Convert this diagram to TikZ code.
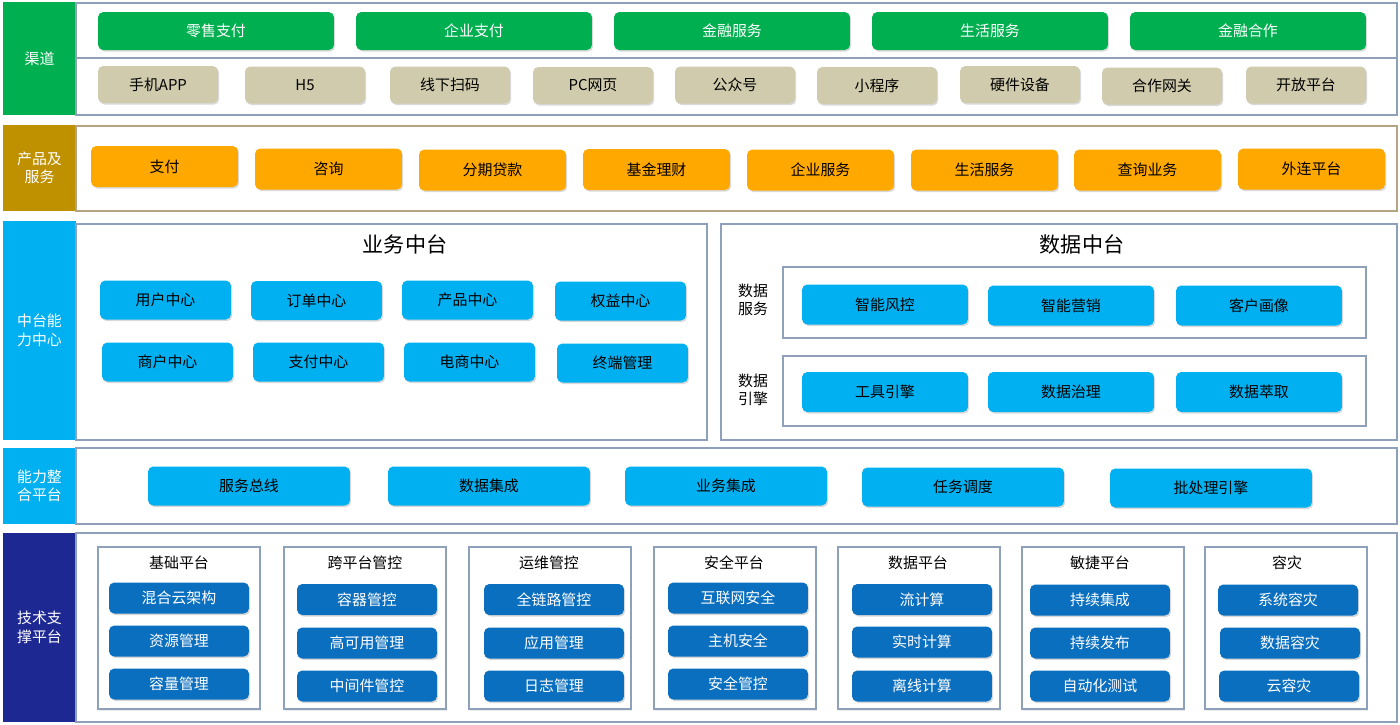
\documentclass[tikz,border=0pt]{standalone}
\usepackage{fontspec}
\setmainfont{Noto Sans CJK SC}
\usetikzlibrary{shadows}

\definecolor{qdgreen}{HTML}{00B050}
\definecolor{zdbeige}{HTML}{CFCBAC}
\definecolor{cpgold}{HTML}{BF9000}
\definecolor{cporange}{HTML}{FFA800}
\definecolor{ztblue}{HTML}{00B0F0}
\definecolor{jsnavy}{HTML}{1E2893}
\definecolor{jsblue}{HTML}{0B6FC0}
\definecolor{frameline}{HTML}{8EA0BA}
\definecolor{cpline}{HTML}{B4A582}

\tikzset{
  txt/.style={font=\fontsize{8.5}{10.5}\selectfont},
  lbl/.style={txt, fill=#1, text=white, minimum width=1.46cm, align=center, inner sep=0pt},
  frame/.style={draw=frameline, line width=0.6pt},
  box/.style={txt, rounded corners=3pt, inner sep=0pt,
    drop shadow={shadow xshift=0.7pt, shadow yshift=-0.9pt, opacity=0.3}},
  chbox/.style={box, fill=qdgreen, text=white, minimum width=4.72cm, minimum height=0.76cm},
  tmbox/.style={box, fill=zdbeige, minimum width=2.40cm, minimum height=0.74cm},
  pdbox/.style={box, fill=cporange, minimum width=2.94cm, minimum height=0.82cm},
  ywbox/.style={box, fill=ztblue, minimum width=2.62cm, minimum height=0.78cm},
  sjbox/.style={box, fill=ztblue, minimum width=3.32cm, minimum height=0.80cm},
  zhbox/.style={box, fill=ztblue, minimum width=4.04cm, minimum height=0.78cm},
  jsbox/.style={box, fill=jsblue, text=white, minimum width=2.80cm, minimum height=0.62cm},
  grp/.style={frame, fill=white, drop shadow={shadow xshift=0.7pt, shadow yshift=-0.9pt, opacity=0.15}},
  title/.style={font=\fontsize{12}{14}\selectfont}
}

\begin{document}
\begin{tikzpicture}[x=0.02cm, y=-0.02cm]
  \useasboundingbox (0,0) rectangle (1400,724);

  % 渠道
  \node[lbl=qdgreen, minimum height=2.26cm] (qd) at (39.5,58.5) {渠道};
  \draw[frame] (76,3) rectangle (1397,115);
  \draw[frame] (76,58) -- (1397,58);

  \node[chbox] (ch1) at (216,31) {零售支付};
  \node[chbox] (ch2) at (474,31) {企业支付};
  \node[chbox] (ch3) at (732,31) {金融服务};
  \node[chbox] (ch4) at (990,31) {生活服务};
  \node[chbox] (ch5) at (1248,31) {金融合作};

  \node[tmbox] (tm1) at (158,84.5) {手机APP};
  \node[tmbox] (tm2) at (305,85) {H5};
  \node[tmbox] (tm3) at (450,85) {线下扫码};
  \node[tmbox] (tm4) at (593,85.5) {PC网页};
  \node[tmbox] (tm5) at (735,85) {公众号};
  \node[tmbox] (tm6) at (877,85.5) {小程序};
  \node[tmbox] (tm7) at (1020,84.5) {硬件设备};
  \node[tmbox] (tm8) at (1162,86) {合作网关};
  \node[tmbox] (tm9) at (1306,85) {开放平台};

  % 产品及服务
  \node[lbl=cpgold, minimum height=1.72cm] (cp) at (39.5,168) {产品及\\服务};
  \draw[draw=cpline, line width=0.6pt] (76,126) rectangle (1397,211);

  \node[pdbox] (pd1) at (164.5,166.5) {支付};
  \node[pdbox] (pd2) at (328.5,169) {咨询};
  \node[pdbox] (pd3) at (492.5,170) {分期贷款};
  \node[pdbox] (pd4) at (656.5,169.5) {基金理财};
  \node[pdbox] (pd5) at (820.5,170) {企业服务};
  \node[pdbox] (pd6) at (984.5,170) {生活服务};
  \node[pdbox] (pd7) at (1147.5,170) {查询业务};
  \node[pdbox] (pd8) at (1311.5,169) {外连平台};

  % 中台能力中心
  \node[lbl=ztblue, minimum height=4.38cm] (zt) at (39.5,330.5) {中台能\\力中心};
  \draw[frame] (76,224) rectangle (707,440);
  \node[title] (ywzt) at (405,244) {业务中台};

  \node[ywbox] (yw1) at (165.5,300) {用户中心};
  \node[ywbox] (yw2) at (316.5,300.5) {订单中心};
  \node[ywbox] (yw3) at (467.5,300) {产品中心};
  \node[ywbox] (yw4) at (620.5,301) {权益中心};
  \node[ywbox] (yw5) at (167.5,362) {商户中心};
  \node[ywbox] (yw6) at (318.5,362) {支付中心};
  \node[ywbox] (yw7) at (469.5,362) {电商中心};
  \node[ywbox] (yw8) at (622.5,363) {终端管理};

  \draw[frame] (721,224) rectangle (1397,440);
  \node[title] (sjzt) at (1082,244) {数据中台};
  \draw[frame] (783,267) rectangle (1366,338);
  \draw[frame] (783,356) rectangle (1366,426);
  \node[txt, align=center] (sjfw) at (753,300) {数据\\服务};
  \node[txt, align=center] (sjyq) at (753,390) {数据\\引擎};

  \node[sjbox] (sj1) at (885,304.5) {智能风控};
  \node[sjbox] (sj2) at (1071,305.5) {智能营销};
  \node[sjbox] (sj3) at (1259,305.5) {客户画像};
  \node[sjbox] (sj4) at (885,392) {工具引擎};
  \node[sjbox] (sj5) at (1071,392) {数据治理};
  \node[sjbox] (sj6) at (1259,392) {数据萃取};

  % 能力整合平台
  \node[lbl=ztblue, minimum height=1.52cm] (zh) at (39.5,486) {能力整\\合平台};
  \draw[frame] (76,448) rectangle (1397,524);

  \node[zhbox] (zh1) at (249,486) {服务总线};
  \node[zhbox] (zh2) at (489,486) {数据集成};
  \node[zhbox] (zh3) at (726,486) {业务集成};
  \node[zhbox] (zh4) at (963,487) {任务调度};
  \node[zhbox] (zh5) at (1211,488) {批处理引擎};

  % 技术支撑平台
  \node[lbl=jsnavy, minimum height=3.78cm] (js) at (39.5,627.5) {技术支\\撑平台};
  \draw[frame] (76,533) rectangle (1397,722);

  \draw[grp] (98,547) rectangle (260,709);
  \node[txt] (g1) at (179,563) {基础平台};
  \node[jsbox] (g1a) at (179,598) {混合云架构};
  \node[jsbox] (g1b) at (179,641) {资源管理};
  \node[jsbox] (g1c) at (179,684) {容量管理};

  \draw[grp] (284,547) rectangle (446,709);
  \node[txt] (g2) at (365,563) {跨平台管控};
  \node[jsbox] (g2a) at (367,599.5) {容器管控};
  \node[jsbox] (g2b) at (367,643) {高可用管理};
  \node[jsbox] (g2c) at (367,686) {中间件管控};

  \draw[grp] (469,547) rectangle (631,709);
  \node[txt] (g3) at (549,563) {运维管控};
  \node[jsbox] (g3a) at (554,599.5) {全链路管控};
  \node[jsbox] (g3b) at (554,643) {应用管理};
  \node[jsbox] (g3c) at (554,686) {日志管理};

  \draw[grp] (654,547) rectangle (816,709);
  \node[txt] (g4) at (734,563) {安全平台};
  \node[jsbox] (g4a) at (738,598) {互联网安全};
  \node[jsbox] (g4b) at (738,641) {主机安全};
  \node[jsbox] (g4c) at (738,684) {安全管控};

  \draw[grp] (838,547) rectangle (1000,709);
  \node[txt] (g5) at (918,563) {数据平台};
  \node[jsbox] (g5a) at (922,599.5) {流计算};
  \node[jsbox] (g5b) at (922,642) {实时计算};
  \node[jsbox] (g5c) at (922,686) {离线计算};

  \draw[grp] (1022,547) rectangle (1184,709);
  \node[txt] (g6) at (1100,563) {敏捷平台};
  \node[jsbox] (g6a) at (1100,600) {持续集成};
  \node[jsbox] (g6b) at (1100,643) {持续发布};
  \node[jsbox] (g6c) at (1100,686) {自动化测试};

  \draw[grp] (1205,547) rectangle (1367,709);
  \node[txt] (g7) at (1287,563) {容灾};
  \node[jsbox] (g7a) at (1288,600) {系统容灾};
  \node[jsbox] (g7b) at (1290,643) {数据容灾};
  \node[jsbox] (g7c) at (1289,686) {云容灾};
\end{tikzpicture}
\end{document}
